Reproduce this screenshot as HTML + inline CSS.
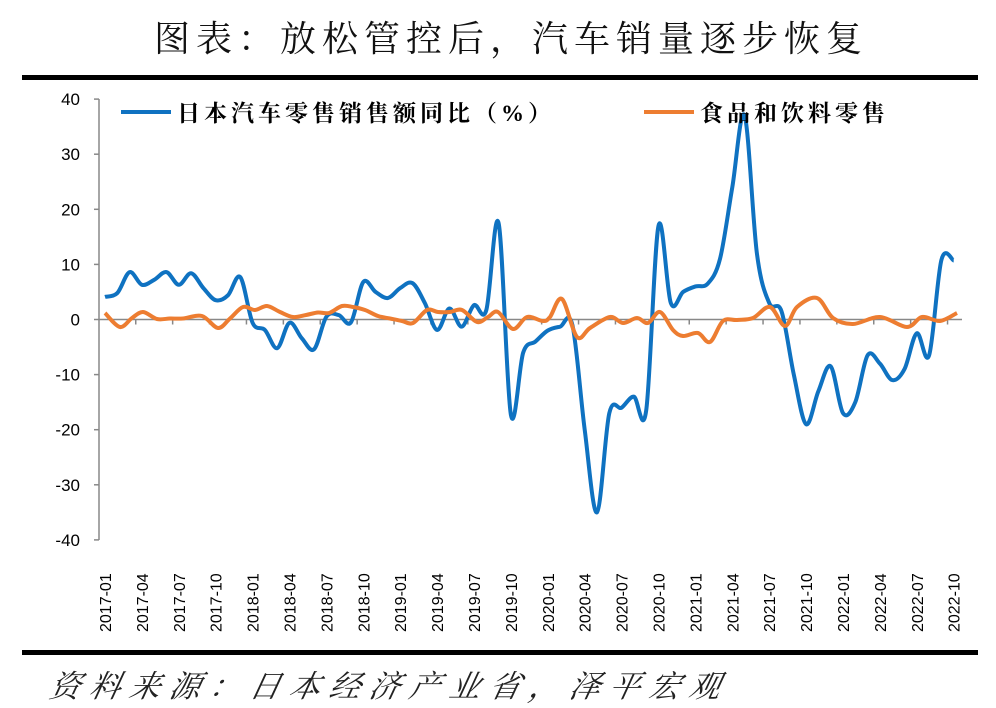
<!DOCTYPE html>
<html><head><meta charset="utf-8"><style>
body{margin:0;background:#fff;width:996px;height:708px;overflow:hidden}
</style></head><body>
<svg id="s" width="996" height="708" xmlns="http://www.w3.org/2000/svg" style="position:absolute;left:0;top:0">
<text x="511" y="51" text-anchor="middle" font-family="'Liberation Serif','Noto Serif CJK SC',serif" font-size="36" fill="#111" letter-spacing="6">图表：放松管控后，汽车销量逐步恢复</text>
<rect x="22" y="75" width="956" height="5" fill="#000"/>
<rect x="22" y="650" width="956" height="5" fill="#000"/>
<text x="48" y="697" font-family="'Liberation Serif','Noto Serif CJK SC',serif" font-style="italic" font-size="31" fill="#222" letter-spacing="9" transform="skewX(-12) translate(148,0)">资料来源：日本经济产业省，泽平宏观</text>
<g id="axes" stroke="#888" stroke-width="1.5" fill="none"></g>
<g id="lbl" font-family="'Liberation Sans',sans-serif" font-size="17" fill="#000"></g>
<path id="bl" fill="none" stroke="#0f72c1" stroke-width="4" stroke-linejoin="round"/>
<path id="or" fill="none" stroke="#ed7d31" stroke-width="4" stroke-linejoin="round"/>
<line x1="121" y1="112" x2="171" y2="112" stroke="#0f72c1" stroke-width="4"/>
<text x="177" y="121" font-family="'Liberation Serif','Noto Serif CJK SC',serif" font-weight="bold" font-size="23" fill="#000" letter-spacing="4">日本汽车零售销售额同比（%）</text>
<line x1="644" y1="112" x2="694" y2="112" stroke="#ed7d31" stroke-width="4"/>
<text x="700" y="121" font-family="'Liberation Serif','Noto Serif CJK SC',serif" font-weight="bold" font-size="23" fill="#000" letter-spacing="4">食品和饮料零售</text>
</svg>
<script>
const NS="http://www.w3.org/2000/svg";
function el(t,a,p,txt){const e=document.createElementNS(NS,t);for(const k in a)e.setAttribute(k,a[k]);if(txt!=null)e.textContent=txt;p.appendChild(e);return e;}
const Y=v=>319.5-v*5.51, X=i=>105+12.3*i;
const ax=document.getElementById('axes'), lb=document.getElementById('lbl');
el('line',{x1:99,y1:99,x2:99,y2:540},ax);
for(let v=40;v>=-40;v-=10){el('line',{x1:94,y1:Y(v),x2:99,y2:Y(v)},ax);el('text',{x:80,y:Y(v)+6,'text-anchor':'end'},lb,String(v));}
el('line',{x1:99,y1:Y(0),x2:962,y2:Y(0)},ax);
for(let i=2.5;i<70;i+=3){el('line',{x1:X(i),y1:Y(0),x2:X(i),y2:Y(0)+5},ax);}
for(let i=0;i<70;i+=3){const yr=2017+Math.floor(i/12),m=i%12+1;const x=X(i)+6,y=632;
el('text',{x:x,y:y,transform:`rotate(-90 ${x} ${y})`,'font-size':16},lb,yr+'-'+(m<10?'0':'')+m);}
const b=[4.1,4.8,8.6,6.3,7.2,8.6,6.3,8.4,5.7,3.5,4.4,7.7,-0.6,-1.9,-5.2,-0.6,-3.4,-5.4,0.5,0.8,-0.5,6.8,5,3.9,5.7,6.6,3,-1.9,2,-1.3,2.6,1.7,17.5,-17.3,-6,-4,-2,-1.3,-1,-20,-35,-17,-16,-14,-16.5,17,3,5,6,6.5,11,24,37,12,3,1.5,-10,-19,-13,-8.5,-17,-15,-6.5,-8,-11,-9,-2.5,-6.5,10.8,10.7];
const bp=b.map((v,i)=>[X(i),Y(v)]);
const op=[[105,313],[120,327],[132,318],[143,312],[157,319],[170,318.5],[183,318.5],[202,316],[218,328],[230,318.5],[243,307],[255,310],[267,306],[280,312],[293,317],[306,315],[318,312.5],[329,313],[342,306],[353,307],[365,310],[378,316],[390,318.5],[402,321],[413,323],[427,310],[438,312],[450,312],[462,310],[477,322],[488,317],[498,312],[513,329],[527,317],[543,321],[550,317],[562,299],[577,337],[590,328],[610,317],[623,323],[637,318],[648,323],[660,312],[673,330],[683,336],[698,333],[710,342],[723,321],[737,320],[753,318],[770,307],[785,326],[797,307],[817,298],[833,318],[853,324],[880,317],[907,327],[922,317],[940,321],[957,313]];
function path(p){let d=`M${p[0][0]},${p[0][1]}`;for(let i=0;i<p.length-1;i++){const p0=p[i-1]||p[i],p1=p[i],p2=p[i+1],p3=p[i+2]||p2;const t=1/6;
d+=` C${p1[0]+(p2[0]-p0[0])*t},${p1[1]+(p2[1]-p0[1])*t} ${p2[0]-(p3[0]-p1[0])*t},${p2[1]-(p3[1]-p1[1])*t} ${p2[0]},${p2[1]}`;}return d;}
document.getElementById('bl').setAttribute('d',path(bp));
document.getElementById('or').setAttribute('d',path(op));
</script>
</body></html>
